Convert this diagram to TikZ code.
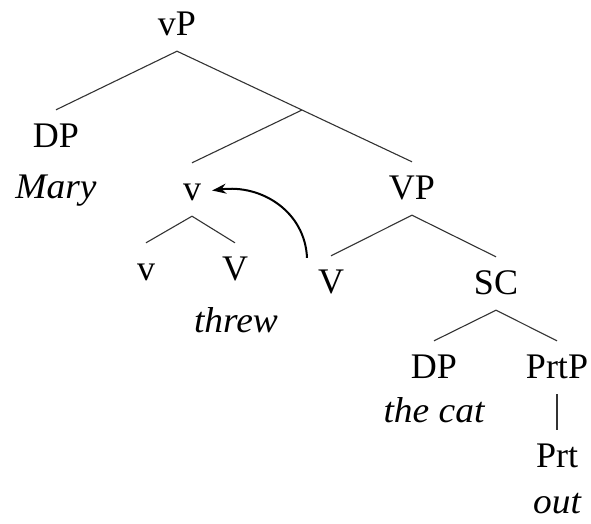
\documentclass[tikz,border=0pt]{standalone}
\usepackage{fontspec}
\setmainfont{Liberation Serif}
\usetikzlibrary{arrows.meta}
\tikzset{
  cat/.style={anchor=base, inner xsep=0pt, inner ysep=13pt,
    text height=24pt, text depth=3pt, font=\fontsize{36}{43}\selectfont},
  word/.style={anchor=base, inner sep=0pt, font=\fontsize{36}{43}\selectfont\itshape},
  branch/.style={line width=1.1pt, draw=black!80},
  move/.style={line width=2pt, -{Stealth[length=14pt,width=10pt]}},
}
\newcommand{\lexword}[1]{\scalebox{1.04}[1]{#1}}
\begin{document}
\begin{tikzpicture}[x=1pt,y=-1pt]
  \useasboundingbox (0,0) rectangle (591,523);
  % category labels
  \node[cat] (vP)   at (177,35)  {vP};
  \node[cat] (DP1)  at (56,147)  {DP};
  \node[cat] (v1)   at (192,200) {v};
  \node[cat] (VP)   at (412,199) {VP};
  \node[cat] (v2)   at (146,280) {v};
  \node[cat] (V1)   at (235,280) {V};
  \node[cat] (V2)   at (331,293) {V};
  \node[cat] (SC)   at (496,294) {SC};
  \node[cat] (DP2)  at (434,378) {DP};
  \node[cat] (PrtP) at (557,378) {PrtP};
  \node[cat] (Prt)  at (557,467) {Prt};
  % lexical items
  \node[word] (mary)   at (56,198)  {\lexword{Mary}};
  \node[word] (threw)  at (236,332) {\lexword{threw}};
  \node[word] (thecat) at (434,422) {\lexword{the cat}};
  \node[word] (out)    at (557,513) {\lexword{out}};
  % unlabelled intermediate projection
  \coordinate (vbar) at (302,110);
  % branches
  \draw[branch] (DP1.north) -- (vP.south) -- (vbar) -- (VP.north);
  \draw[branch] (vbar) -- (v1.north);
  \draw[branch] (v2.north) -- (v1.south) -- (V1.north);
  \draw[branch] (V2.north) -- (VP.south) -- (SC.north);
  \draw[branch] (DP2.north) -- (SC.south) -- (PrtP.north);
  \draw[branch] (PrtP.south) -- (Prt.north);
  % head movement
  \draw[move] (V2.north) ++(-24,2) .. controls (305,212) and (262,184) .. ([xshift=11pt,yshift=-1pt]v1.east);
\end{tikzpicture}
\end{document}
